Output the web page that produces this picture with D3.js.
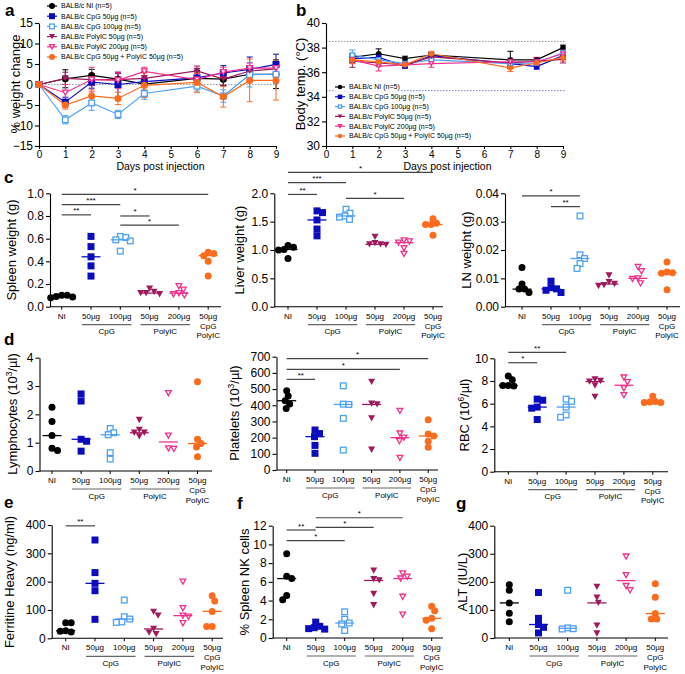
<!DOCTYPE html>
<html><head><meta charset="utf-8">
<script src="https://cdn.jsdelivr.net/npm/d3@7"></script>
<style>body{margin:0;background:#fff}</style>
</head><body><svg id="c" width="685" height="674"></svg>
<script>
// ---------- DATA ----------
const groups = ["NI","CpG50","CpG100","PolyIC50","PolyIC200","Combo"];
const groupNames = ["BALB/c NI (n=5)","BALB/c CpG 50µg (n=5)","BALB/c CpG 100µg (n=5)","BALB/c PolyIC 50µg (n=5)","BALB/c PolyIC 200µg (n=5)","BALB/c CpG 50µg + PolyIC 50µg (n=5)"];
const catLabels = ["NI","50µg","100µg","50µg","200µg","50µg"];
const groupColors = ["#000000","#0c0cbf","#4ea1f3","#9e1a5c","#f4308c","#fb6c1f"];
const groupShapes = ["circle","square","squareOpen","tri","triOpen","circle"];

// panel a: % weight change
const daysA = [0,1,2,3,4,6,7,8,9];
const weightNI       = [0, 1.4, 2.2, 1.3, 0.1, 1.5, 1.3, 2.5, 2.5];
const weightCpG50    = [0,-4.3, 0.6, 0.0, 0.7, 1.6, 2.8, 3.7, 4.9];
const weightCpG100   = [0,-8.6,-4.5,-7.3,-2.2,-0.4,-2.8, 2.4, 2.5];
const weightPolyIC50 = [0, 1.5, 1.2, 1.2, 1.5, 3.3, 1.3, 3.3, 3.8];
const weightPolyIC200= [0,-2.0, 1.2, 1.0, 3.2, 1.2, 3.0, 4.0, 4.0];
const weightCombo    = [0,-5.0,-2.8,-3.4,-0.2, 0.5,-3.0, 1.0, 1.0];
const weightSdNI       = [0,2.2,1.5,1.5,1.5,1.5,1.5,1.2,3.5];
const weightSdCpG50    = [0,1.2,1.5,3.0,2.5,1.8,1.8,3.0,2.5];
const weightSdCpG100   = [0,1.0,1.8,1.0,1.4,1.2,1.5,3.0,2.2];
const weightSdPolyIC50 = [0,1.5,1.5,1.5,1.5,1.2,1.5,1.2,1.2];
const weightSdPolyIC200= [0,2.0,3.0,2.0,1.0,1.5,1.2,1.2,1.2];
const weightSdCombo    = [0,1.0,1.5,1.5,3.0,2.5,2.5,5.2,4.8];

// panel b: body temperature
const daysB = [1,2,3,4,7,8,9];
const tempNI       = [37.2,37.5,37.1,37.4,37.0,37.0,38.0];
const tempCpG50    = [37.1,37.2,36.5,37.35,36.7,36.45,37.35];
const tempCpG100   = [37.4,37.0,36.7,37.0,36.7,36.75,37.6];
const tempPolyIC50 = [36.9,36.75,36.6,37.25,36.75,36.9,37.05];
const tempPolyIC200= [37.0,36.5,36.6,36.7,36.85,36.85,37.5];
const tempCombo    = [37.0,36.85,36.6,37.5,36.35,36.75,37.2];
const tempSdNI       = [0.3,0.4,0.2,0.2,0.7,0.2,0.2];
const tempSdCpG50    = [0.3,0.3,0.2,0.2,0.3,0.2,0.3];
const tempSdCpG100   = [0.4,0.3,0.3,0.3,0.3,0.3,0.3];
const tempSdPolyIC50 = [0.5,0.3,0.2,0.2,0.3,0.3,0.3];
const tempSdPolyIC200= [0.3,0.4,0.3,0.3,0.3,0.3,0.3];
const tempSdCombo    = [0.3,0.3,0.3,0.2,0.3,0.3,0.3];

// scatter panels (values per group)
const spleen = [[0.10,0.09,0.08,0.085,0.10],[0.62,0.53,0.44,0.36,0.27],[0.62,0.61,0.59,0.58,0.49],[0.16,0.12,0.11,0.12,0.13],[0.18,0.15,0.12,0.11,0.10],[0.48,0.47,0.45,0.40,0.27]];
const liver = [[1.08,1.05,1.01,1.00,0.85],[1.69,1.66,1.53,1.37,1.25],[1.72,1.65,1.60,1.58,1.54],[1.23,1.12,1.10,1.09,1.10],[1.17,1.15,1.13,1.03,0.93],[1.55,1.47,1.45,1.45,1.26]];
const lnWeight = [[0.0138,0.0080,0.0062,0.0062,0.0050],[0.0090,0.0067,0.0063,0.0058,0.0050],[0.032,0.0183,0.0170,0.0152,0.0135],[0.0110,0.0087,0.0080,0.0076,0.0073],[0.0140,0.0125,0.0100,0.0098,0.0082],[0.0158,0.0122,0.0120,0.0118,0.0060]];
const lymph = [[2.25,1.75,1.25,0.8,0.72],[2.72,2.47,1.12,1.05,0.7],[1.5,1.35,1.28,0.65,0.42],[1.8,1.45,1.35,1.35,1.22],[2.75,1.25,0.8,0.78],[3.15,1.12,0.97,0.85,0.5]];
const platelets = [[490,457,428,408,380],[247,225,206,152,103],[520,407,405,319,123],[545,410,405,319,125],[365,225,200,178,75],[310,222,210,178,140]];
const rbc = [[8.45,8.1,7.6,7.6,7.55],[6.4,6.3,5.7,5.6,4.6],[6.4,6.2,5.7,5.0,4.8],[8.15,8.0,7.95,7.6,6.6],[8.3,7.9,7.35,6.75],[6.65,6.2,6.15,6.1,6.1]];
const ferritin = [[55,55,27,22,25],[347,232,194,168,67],[135,76,68,58,56],[93,80,33,20,15],[200,106,80,76,53],[150,132,95,42,42]];
const nkCells = [[9.0,6.6,6.35,4.55,4.1],[1.7,1.25,1.1,1.0,0.95],[2.8,2.0,1.6,1.5,0.8],[7.2,6.3,6.15,4.7,3.5],[6.9,6.55,6.35,4.4,2.5],[3.4,2.9,2.1,1.9,1.0]];
const alt = [[190,170,125,88,58],[162,70,48,38,18],[170,36,33,32],[182,144,125,44,16],[290,224,185,170],[193,145,87,68,68]];

// significance bars: [from group, to group, label, level in data units]
const spleenSig = [[0,5,"*",0.99],[0,2,"***",0.90],[0,1,"**",0.81],[2,3,"*",0.80],[2,4,"*",0.72]];
const liverSig = [[0,5,"*",2.37],[0,2,"***",2.19],[0,1,"**",1.98],[2,4,"*",1.91]];
const lnSig = [[0,2,"*",0.0391],[1,2,"**",0.0353]];
const plateletSig = [[0,5,"*",688],[0,4,"*",622],[0,1,"**",560]];
const rbcSig = [[0,2,"**",10.53],[0,1,"*",9.61]];
const ferritinSig = [[0,1,"**",397]];
const nkSig = [[1,4,"*",12.85],[1,3,"*",11.83],[0,1,"**",11.54],[0,2,"*",10.4]];
const altSig = [];

// ---------- DRAWING ----------
const FONT = '"Liberation Sans", Arial, Helvetica, sans-serif';
const svg = d3.select("#c").attr("font-family", FONT);

function drawMarker(g, gi, x, y, s) {
  const color = groupColors[gi], shape = groupShapes[gi];
  const open = shape.endsWith("Open"), sw = 1.3;
  const ss = open ? s - sw : s;
  let el;
  if (shape.startsWith("circle")) el = g.append("circle").attr("cx", x).attr("cy", y).attr("r", ss / 2);
  else if (shape.startsWith("square")) el = g.append("rect").attr("x", x - ss / 2).attr("y", y - ss / 2).attr("width", ss).attr("height", ss);
  else { const h = ss * 0.9; el = g.append("path").attr("d", `M${x - ss / 2},${y - h / 2}L${x + ss / 2},${y - h / 2}L${x},${y + h / 2}Z`); }
  if (open) el.attr("fill", "#fff").attr("stroke", color).attr("stroke-width", sw);
  else el.attr("fill", color);
}

function styleAxis(sel, fs) {
  sel.attr("font-family", FONT).attr("font-size", fs);
  sel.selectAll("path,line").attr("stroke", "#000").attr("stroke-width", 1.1);
  sel.selectAll("text").attr("fill", "#000");
}

function letter(t, x, y) {
  svg.append("text").attr("x", x).attr("y", y).attr("font-size", 17).attr("font-weight", "bold").text(t);
}

function yTitle(parts, x, y, fs) {
  const t = svg.append("text").attr("transform", `translate(${x},${y}) rotate(-90)`).attr("text-anchor", "middle").attr("font-size", fs);
  parts.forEach(p => {
    const ts = t.append("tspan").text(p[0]);
    if (p[1]) ts.attr("baseline-shift", "super").attr("font-size", fs * 0.65);
  });
}

// ---- line panels ----
function linePanel(o) {
  const g = svg.append("g");
  const x = d3.scaleLinear().domain([0, 9]).range([o.x0, o.x1]);
  const y = d3.scaleLinear().domain(o.yDomain).range([o.yBot, o.yTop]);
  o.refs.forEach(r => g.append("line").attr("x1", x(0)).attr("x2", x(9) + 2).attr("y1", y(r[0])).attr("y2", y(r[0]))
    .attr("stroke", r[1]).attr("stroke-width", 1).attr("stroke-dasharray", "1.5,1.5"));
  const ya = g.append("g").attr("transform", `translate(${o.x0},0)`)
    .call(d3.axisLeft(y).tickValues(o.yTicks).tickSize(4).tickSizeOuter(0).tickPadding(2));
  styleAxis(ya, 12);
  const xa = g.append("g").attr("transform", `translate(0,${o.yBot})`)
    .call(d3.axisBottom(x).tickValues(d3.range(10)).tickSize(3).tickSizeOuter(0).tickPadding(1.5));
  styleAxis(xa, 10);
  g.append("text").attr("x", (o.x0 + o.x1) / 2 + 3).attr("y", o.yBot + 24).attr("text-anchor", "middle").attr("font-size", 10.5).text("Days post injection");
  o.series.forEach((s, gi) => {
    const col = groupColors[gi];
    s.mean.forEach((m, k) => {
      if (s.sd[k] <= 0) return;
      const xx = x(o.days[k]), y1 = y(m - s.sd[k]), y2 = y(m + s.sd[k]);
      g.append("line").attr("x1", xx).attr("x2", xx).attr("y1", y1).attr("y2", y2).attr("stroke", col).attr("stroke-width", 1);
      [y1, y2].forEach(yy => g.append("line").attr("x1", xx - 3).attr("x2", xx + 3).attr("y1", yy).attr("y2", yy).attr("stroke", col).attr("stroke-width", 1));
    });
  });
  o.series.forEach((s, gi) => {
    const col = groupColors[gi];
    g.append("path").attr("d", d3.line().x((d, k) => x(o.days[k])).y(d => y(d))(s.mean))
      .attr("fill", "none").attr("stroke", col).attr("stroke-width", 1.2);
    s.mean.forEach((m, k) => drawMarker(g, gi, x(o.days[k]), y(m), o.ms));
  });
  // legend
  const lg = g.append("g");
  groupNames.forEach((n, gi) => {
    const ly = o.legY + gi * o.legStep;
    const t = lg.append("text").attr("x", o.legX + 9).attr("y", ly + 2.4).attr("font-size", 7).text(n);
    const w = t.node().getComputedTextLength();
    lg.insert("rect", "text").attr("x", o.legX - 5).attr("y", ly - 4).attr("width", w + 15).attr("height", 8).attr("fill", "#fff");
    lg.append("line").attr("x1", o.legX - 5).attr("x2", o.legX + 5).attr("y1", ly).attr("y2", ly).attr("stroke", groupColors[gi]).attr("stroke-width", 1.2);
    drawMarker(lg, gi, o.legX, ly, o.ms - 1);
  });
}

linePanel({
  x0: 39, x1: 276, yTop: 23, yBot: 146, yDomain: [-15, 15], yTicks: [-15, -10, -5, 0, 5, 10, 15],
  refs: [[0, "#999"]], days: daysA, ms: 7, legX: 52, legY: 6, legStep: 10.2,
  series: [
    { mean: weightNI, sd: weightSdNI }, { mean: weightCpG50, sd: weightSdCpG50 }, { mean: weightCpG100, sd: weightSdCpG100 },
    { mean: weightPolyIC50, sd: weightSdPolyIC50 }, { mean: weightPolyIC200, sd: weightSdPolyIC200 }, { mean: weightCombo, sd: weightSdCombo }]
});
linePanel({
  x0: 326, x1: 563, yTop: 23, yBot: 146, yDomain: [30, 40], yTicks: [30, 32, 34, 36, 38, 40],
  refs: [[38.5, "#999"], [34.5, "#7a7ad8"]], days: daysB, ms: 5.5, legX: 340, legY: 87, legStep: 9.8,
  series: [
    { mean: tempNI, sd: tempSdNI }, { mean: tempCpG50, sd: tempSdCpG50 }, { mean: tempCpG100, sd: tempSdCpG100 },
    { mean: tempPolyIC50, sd: tempSdPolyIC50 }, { mean: tempPolyIC200, sd: tempSdPolyIC200 }, { mean: tempCombo, sd: tempSdCombo }]
});
yTitle([["% weight change"]], 20, 84, 13);
yTitle([["Body temp. (°C)"]], 305, 84, 13);
letter("a", 5, 16); letter("b", 296, 16);

// ---- dot panels ----
// greedy beeswarm: horizontal offsets so markers do not pile up
function swarm(ys, D) {
  const order = ys.map((v, i) => i).sort((a, b) => ys[a] - ys[b]);
  const placed = [], offs = [];
  let side = 1;
  order.forEach(k => {
    let best = 0;
    for (let st = 0; st < 400; st++) {
      const cand = st === 0 ? 0 : Math.ceil(st / 2) * 0.5 * (st % 2 ? side : -side);
      if (placed.every(p => Math.hypot(p.x - cand, p.y - ys[k]) >= D)) { best = cand; break; }
    }
    if (best !== 0) side = -Math.sign(best);
    offs[k] = best; placed.push({ x: best, y: ys[k] });
  });
  return offs;
}

function dotPanel(o, data, sig) {
  const g = svg.append("g");
  const y = d3.scaleLinear().domain([0, o.max]).range([o.yBot, o.yTop]);
  const x = d3.scalePoint().domain(groups).range([o.x0, o.x0 + 5 * o.step]);
  const ya = g.append("g").attr("transform", `translate(${o.axisX},0)`)
    .call(d3.axisLeft(y).tickValues(o.ticks).tickFormat(d3.format(o.fmt)).tickSize(4).tickSizeOuter(0).tickPadding(2));
  styleAxis(ya, 12);
  g.append("line").attr("x1", o.axisX).attr("x2", o.xEnd).attr("y1", o.yBot).attr("y2", o.yBot).attr("stroke", "#000").attr("stroke-width", 1.1);
  const widths = [];
  groups.forEach((gr, i) => {
    g.append("line").attr("x1", x(gr)).attr("x2", x(gr)).attr("y1", o.yBot).attr("y2", o.yBot + 3).attr("stroke", "#000");
    const t = g.append("text").attr("x", x(gr)).attr("y", o.yBot + 12).attr("text-anchor", "middle").attr("font-size", 8).text(catLabels[i]);
    widths.push(t.node().getComputedTextLength());
  });
  [[1, 2, "CpG"], [3, 4, "PolyIC"]].forEach(([a, b, lab]) => {
    const xa = x(groups[a]) - widths[a] / 2, xb = x(groups[b]) + widths[b] / 2;
    g.append("line").attr("x1", xa).attr("x2", xb).attr("y1", o.yBot + 18).attr("y2", o.yBot + 18).attr("stroke", "#666").attr("stroke-width", 1.2);
    g.append("text").attr("x", (xa + xb) / 2).attr("y", o.yBot + 27.5).attr("text-anchor", "middle").attr("font-size", 8).text(lab);
  });
  g.append("text").attr("x", x(groups[5])).attr("y", o.yBot + 22).attr("text-anchor", "middle").attr("font-size", 8).text("CpG");
  g.append("text").attr("x", x(groups[5])).attr("y", o.yBot + 31.5).attr("text-anchor", "middle").attr("font-size", 8).text("PolyIC");
  // significance
  sig.forEach(([a, b, lab, lev]) => {
    const yy = y(lev);
    g.append("line").attr("x1", x(groups[a])).attr("x2", x(groups[b])).attr("y1", yy).attr("y2", yy).attr("stroke", "#444").attr("stroke-width", 1.2);
    g.append("text").attr("x", (x(groups[a]) + x(groups[b])) / 2).attr("y", yy - 1.5).attr("text-anchor", "middle").attr("font-size", 8).text(lab);
  });
  // points + medians
  data.forEach((vals, gi) => {
    const cx = x(groups[gi]);
    const ys = vals.map(v => y(v));
    const offs = swarm(ys, 5.5);
    const med = d3.median(vals);
    ys.forEach((yy, k) => drawMarker(g, gi, cx + offs[k], yy, 7));
    g.append("line").attr("x1", cx - 9.5).attr("x2", cx + 9.5).attr("y1", y(med)).attr("y2", y(med)).attr("stroke", groupColors[gi]).attr("stroke-width", 1.3);
  });
}

// row c
dotPanel({ axisX: 50, yTop: 193.3, yBot: 306.7, x0: 61.7, step: 29.3, xEnd: 221, max: 1.0, ticks: [0, 0.2, 0.4, 0.6, 0.8, 1.0], fmt: ".1f" }, spleen, spleenSig);
dotPanel({ axisX: 274.3, yTop: 193.3, yBot: 306.7, x0: 288, step: 29, xEnd: 443, max: 2.0, ticks: [0, 0.5, 1.0, 1.5, 2.0], fmt: ".1f" }, liver, liverSig);
dotPanel({ axisX: 505, yTop: 193.3, yBot: 306.7, x0: 522, step: 29, xEnd: 680, max: 0.04, ticks: [0, 0.01, 0.02, 0.03, 0.04], fmt: ".2f" }, lnWeight, lnSig);
yTitle([["Spleen weight (g)"]], 16, 250, 13);
yTitle([["Liver weight (g)"]], 244, 250, 13);
yTitle([["LN weight (g)"]], 471, 250, 13);
letter("c", 4, 183);

// row d
dotPanel({ axisX: 39.5, yTop: 357.7, yBot: 471, x0: 52, step: 29.1, xEnd: 212, max: 4, ticks: [0, 1, 2, 3, 4], fmt: "d" }, lymph, []);
dotPanel({ axisX: 276.5, yTop: 356.7, yBot: 470, x0: 286.7, step: 28.3, xEnd: 438, max: 700, ticks: [0, 100, 200, 300, 400, 500, 600, 700], fmt: "d" }, platelets, plateletSig);
dotPanel({ axisX: 494.3, yTop: 358.3, yBot: 471.7, x0: 508.3, step: 28.9, xEnd: 668, max: 10, ticks: [0, 2, 4, 6, 8, 10], fmt: "d" }, rbc, rbcSig);
yTitle([["Lymphocytes (10"], ["3", true], ["/µl)"]], 17, 414, 13);
yTitle([["Platelets (10"], ["3", true], ["/µl)"]], 239, 413, 13);
yTitle([["RBC (10"], ["6", true], ["/µl)"]], 469, 415, 13);
letter("d", 4, 345);

// row e/f/g
dotPanel({ axisX: 51.7, yTop: 525, yBot: 638.3, x0: 65.7, step: 29.3, xEnd: 223, max: 400, ticks: [0, 100, 200, 300, 400], fmt: "d" }, ferritin, ferritinSig);
dotPanel({ axisX: 272.7, yTop: 525.7, yBot: 638, x0: 286.7, step: 29, xEnd: 443, max: 12, ticks: [0, 2, 4, 6, 8, 10, 12], fmt: "d" }, nkCells, nkSig);
dotPanel({ axisX: 494.3, yTop: 525.7, yBot: 638, x0: 509.3, step: 29.2, xEnd: 668, max: 400, ticks: [0, 100, 200, 300, 400], fmt: "d" }, alt, altSig);
yTitle([["Ferritine Heavy (ng/ml)"]], 14, 582, 13);
yTitle([["% Spleen NK cells"]], 249, 582, 13);
yTitle([["ALT (IU/L)"]], 467, 582, 13);
letter("e", 4, 508); letter("f", 237, 509); letter("g", 456, 509);
</script></body></html>
